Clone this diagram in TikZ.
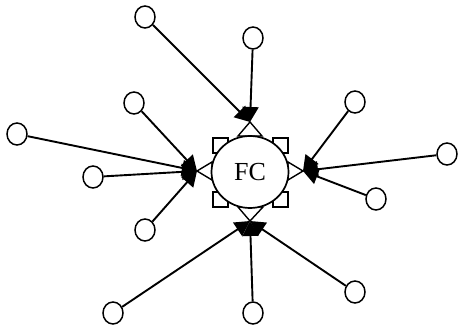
\documentclass[tikz,border=0pt]{standalone}
\usepackage{fontspec}
\setmainfont{Liberation Serif}
\usetikzlibrary{arrows.meta,shapes.geometric}
\tikzset{
  leaf/.style={draw,ellipse,fill=white,line width=1.5pt,minimum width=20pt,minimum height=22pt,inner sep=0pt},
  hub/.style={draw,ellipse,fill=white,line width=1.7pt,minimum width=77pt,minimum height=72pt,inner sep=0pt,font=\fontsize{26}{26}\selectfont},
  arr/.style={line width=1.9pt,-{Triangle[length=15pt,width=16pt]}},
  deco/.style={draw,fill=white,line width=1.4pt}
}
\begin{document}
\begin{tikzpicture}[x=1pt,y=-1pt]
\useasboundingbox (0,0) rectangle (458,331);
% corner squares
\path[deco] (213,138) rectangle (228,153);
\path[deco] (273,138) rectangle (288,153);
\path[deco] (213,192) rectangle (228,207);
\path[deco] (273,192) rectangle (288,207);
% triangles
\coordinate (T) at (250,122);
\coordinate (L) at (197,171);
\coordinate (R) at (303,171);
\coordinate (B) at (250,221);
\path[deco] (238,136) -- (262,136) -- (T) -- cycle;
\path[deco] (212,162) -- (212,180) -- (L) -- cycle;
\path[deco] (288,162) -- (288,180) -- (R) -- cycle;
\path[deco] (238,207) -- (263,207) -- (B) -- cycle;
% hub
\node[hub] (fc) at (250,172) {FC};
% leaves
\node[leaf] (c1) at (145,17) {};
\node[leaf] (c2) at (253,38) {};
\node[leaf] (c3) at (134,103) {};
\node[leaf] (c4) at (17,134) {};
\node[leaf] (c5) at (93,177) {};
\node[leaf] (c6) at (145,230) {};
\node[leaf] (c7) at (355,102) {};
\node[leaf] (c8) at (447,154) {};
\node[leaf] (c9) at (376,199) {};
\node[leaf] (c10) at (355,292) {};
\node[leaf] (c11) at (253,313) {};
\node[leaf] (c12) at (113,313) {};
% connectors
\draw[arr] (c1) -- (T);
\draw[arr] (c2) -- (T);
\draw[arr] (c3) -- (L);
\draw[arr] (c4) -- (L);
\draw[arr] (c5) -- (L);
\draw[arr] (c6) -- (L);
\draw[arr] (c7) -- (R);
\draw[arr] (c8) -- (R);
\draw[arr] (c9) -- (R);
\draw[arr] (c10) -- (B);
\draw[arr] (c11) -- (B);
\draw[arr] (c12) -- (B);
\end{tikzpicture}
\end{document}
